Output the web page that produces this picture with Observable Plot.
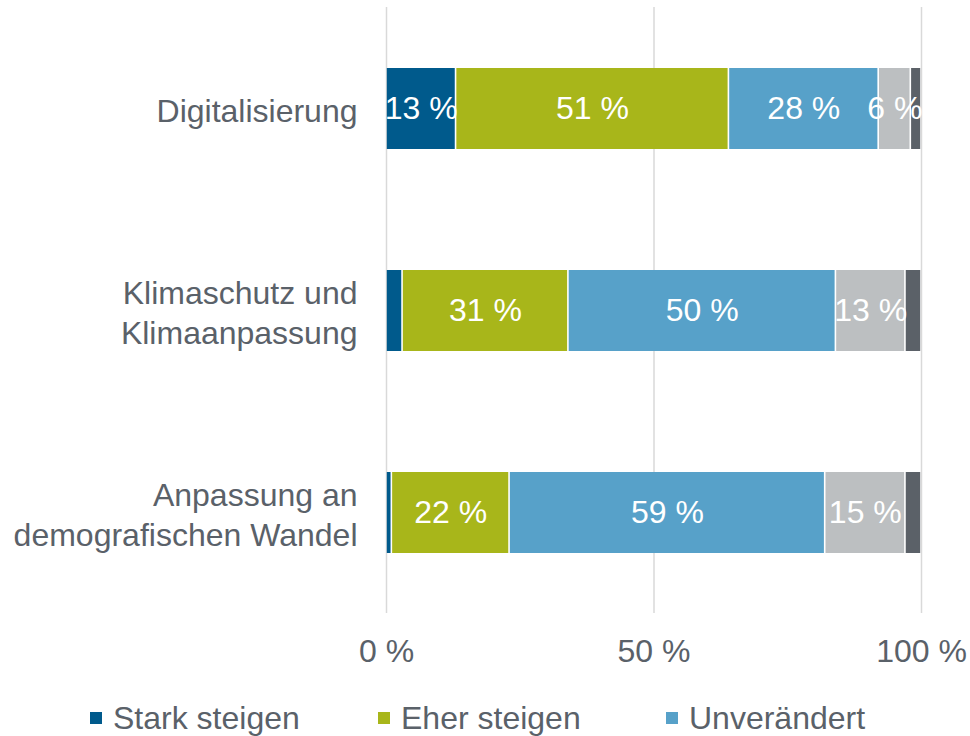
<!DOCTYPE html>
<html>
<head>
<meta charset="utf-8">
<script src="https://cdn.jsdelivr.net/npm/d3@7"></script>
<script src="https://cdn.jsdelivr.net/npm/@observablehq/plot@0.6"></script>
<style>
  html, body { margin: 0; padding: 0; background: #fff; }
  body { font-family: "Liberation Sans", Arial, sans-serif; width: 970px; height: 736px; overflow: hidden; }
  #chart svg { display: block; }
  .legend { position: relative; height: 56px; width: 970px; }
  .legend-item { position: absolute; top: 19px; display: flex; align-items: center; font-size: 32px; color: #5a6169; white-space: nowrap; line-height: 38px; }
  .legend-swatch { width: 12px; height: 12px; margin-right: 11px; }
</style>
</head>
<body>
<div id="chart"></div>
<div class="legend" id="legend"></div>
<script>
// ---- data ----
const categories = ["Digitalisierung", "Klimaschutz und Klimaanpassung", "Anpassung an demografischen Wandel"];
const categoryLabels = ["Digitalisierung", "Klimaschutz und\nKlimaanpassung", "Anpassung an\ndemografischen Wandel"];
const series = ["Stark steigen", "Eher steigen", "Unverändert", "Eher sinken", "Stark sinken"];
const starkSteigen = [13, 3, 1];
const eherSteigen = [51, 31, 22];
const unveraendert = [28, 50, 59];
const eherSinken = [6, 13, 15];
const starkSinken = [2, 3, 3];
const xTicks = [0, 50, 100];
const legendSeries = ["Stark steigen", "Eher steigen", "Unverändert"];
const colors = ["#005a8c", "#a8b61a", "#57a1c9", "#bcbfc1", "#5b6168"];

const seriesValues = [starkSteigen, eherSteigen, unveraendert, eherSinken, starkSinken];
const rows = [];
categories.forEach((c, i) => {
  series.forEach((s, j) => {
    rows.push({category: c, series: s, value: seriesValues[j][i]});
  });
});
const labelOf = new Map(categories.map((c, i) => [c, categoryLabels[i]]));

const textColor = "#5a6169";
const stackOpts = {x: "value", y: "category", z: "series", order: series};

const chart = Plot.plot({
  width: 970,
  height: 680,
  marginLeft: 386,
  marginRight: 49,
  marginTop: 7,
  marginBottom: 67,
  style: {fontFamily: "Liberation Sans, Arial, sans-serif", background: "#fff"},
  x: {domain: [0, 100]},
  y: {domain: categories, paddingInner: 0.6, paddingOuter: 0.3},
  color: {domain: series, range: colors},
  marks: [
    Plot.ruleX(xTicks, {stroke: "#d9d9d9", strokeWidth: 1.5}),
    Plot.barX(rows, Plot.stackX({...stackOpts, fill: "series", insetLeft: 0.8, insetRight: 0.8})),
    Plot.text(rows, Plot.stackX({
      ...stackOpts,
      text: d => d.value >= 5 ? d.value + " %" : "",
      fill: "white",
      fontSize: 32
    })),
    Plot.axisX({
      ticks: xTicks,
      tickFormat: d => d + " %",
      tickSize: 0,
      tickPadding: 26,
      fontSize: 32,
      color: textColor,
      label: null
    }),
    Plot.axisY({
      tickSize: 0,
      tickPadding: 29,
      fontSize: 32,
      lineHeight: 1.25,
      color: textColor,
      tickFormat: d => labelOf.get(d),
      label: null
    })
  ]
});
document.getElementById("chart").appendChild(chart);

// legend
const legend = document.getElementById("legend");
legendSeries.forEach((s, i) => {
  const item = document.createElement("div");
  item.className = "legend-item";
  item.style.left = (90 + i * 288) + "px";
  const sw = document.createElement("span");
  sw.className = "legend-swatch";
  sw.style.background = colors[series.indexOf(s)];
  const t = document.createElement("span");
  t.textContent = s;
  item.appendChild(sw);
  item.appendChild(t);
  legend.appendChild(item);
});
</script>
</body>
</html>
